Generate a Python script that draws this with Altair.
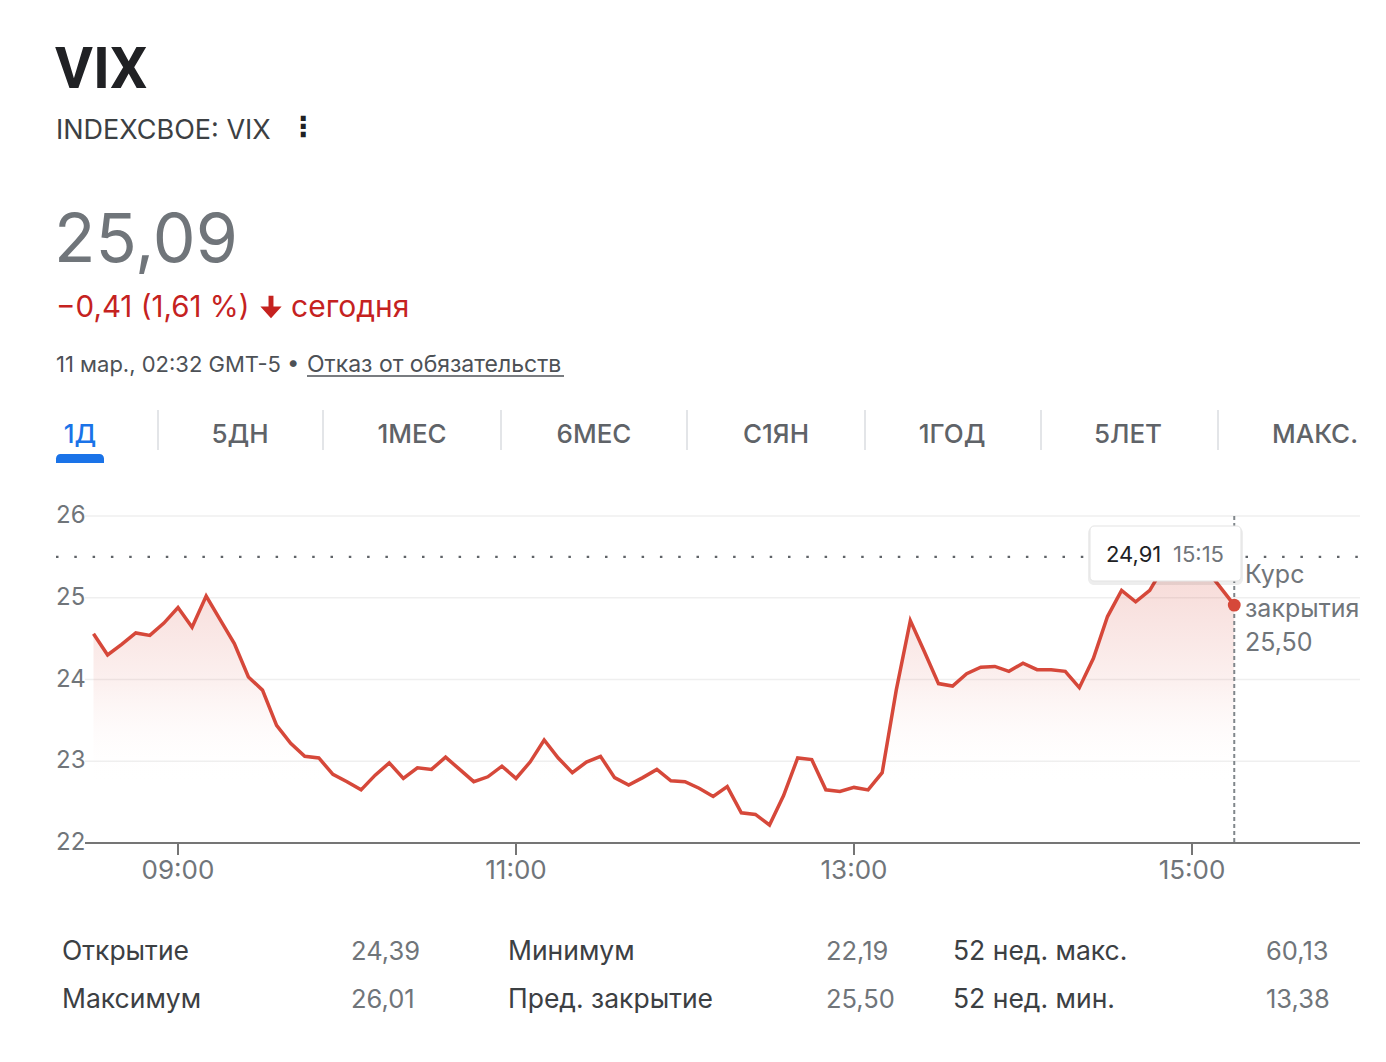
import altair as alt
import pandas as pd

# ---------------- data ----------------
start_min = 8 * 60 + 30   # 08:30
step_min = 5
vix_values = [
    24.56, 24.30, 24.43, 24.57, 24.54, 24.69, 24.88, 24.64, 25.02, 24.73,
    24.44, 24.03, 23.87, 23.44, 23.22, 23.06, 23.04, 22.84, 22.75, 22.65,
    22.83, 22.98, 22.79, 22.92, 22.90, 23.05, 22.90, 22.75, 22.81, 22.94,
    22.79, 22.99, 23.26, 23.04, 22.86, 22.99, 23.06, 22.80, 22.71, 22.80,
    22.90, 22.76, 22.75, 22.67, 22.57, 22.69, 22.37, 22.35, 22.22, 22.58,
    23.04, 23.02, 22.65, 22.63, 22.68, 22.65, 22.86, 23.87, 24.72, 24.34,
    23.95, 23.92, 24.07, 24.15, 24.16, 24.10, 24.20, 24.12, 24.12, 24.10,
    23.90, 24.26, 24.77, 25.09, 24.95, 25.09, 25.38, 25.55, 25.50, 25.35,
    25.13, 24.91,
]
times = [start_min + step_min * i for i in range(len(vix_values))]

y_ticks = [22, 23, 24, 25, 26]
x_tick_labels = ["09:00", "11:00", "13:00", "15:00"]
prev_close = 25.50

tabs = ["1Д", "5ДН", "1МЕС", "6МЕС", "С1ЯН", "1ГОД", "5ЛЕТ", "МАКС."]
tab_centers = [80, 240, 412, 594, 776, 952, 1128, 1315]
tab_separators = [158, 323, 501, 687, 865, 1041, 1218]

stat_labels = [["Открытие", "Максимум"], ["Минимум", "Пред. закрытие"], ["52 нед. макс.", "52 нед. мин."]]
stat_values = [["24,39", "26,01"], ["22,19", "25,50"], ["60,13", "13,38"]]

# ---------------- style ----------------
FONT = "Inter"
RED = "#d6483a"
W, H = 1360, 1040


def fmt(v):
    return f"{v:.2f}".replace(".", ",")


def tmin(s):
    h, m = s.split(":")
    return int(h) * 60 + int(m)


one = pd.DataFrame({"a": [0]})


def txt(s, x, y, size, color, weight="normal", align="left", font=FONT, baseline="alphabetic"):
    return alt.Chart(pd.DataFrame({"s": [s]})).mark_text(
        align=align, baseline=baseline, fontSize=size, font=font,
        fontWeight=weight, color=color
    ).encode(x=alt.value(x - 8), y=alt.value(y - 8), text="s:N")


def hrule(x1, x2, y, color, width, dash=None):
    kw = dict(color=color, strokeWidth=width)
    if dash:
        kw["strokeDash"] = dash
    return alt.Chart(one).mark_rule(**kw).encode(
        x=alt.value(x1 - 8), x2=alt.value(x2 - 8), y=alt.value(y - 8))


def vrule(x, y1, y2, color, width, dash=None):
    kw = dict(color=color, strokeWidth=width)
    if dash:
        kw["strokeDash"] = dash
    return alt.Chart(one).mark_rule(**kw).encode(
        x=alt.value(x - 8), y=alt.value(y1 - 8), y2=alt.value(y2 - 8))


def rect(x1, x2, y1, y2, fill, **kw):
    return alt.Chart(one).mark_rect(fill=fill, **kw).encode(
        x=alt.value(x1 - 8), x2=alt.value(x2 - 8), y=alt.value(y1 - 8), y2=alt.value(y2 - 8))


# scales mapping into the chart region of the page
xs = alt.Scale(domain=[540, 900], range=[178 - 8, 1192 - 8], nice=False, zero=False)
ys = alt.Scale(domain=[22, 26], range=[843 - 8, 516 - 8], nice=False, zero=False)

df = pd.DataFrame({"t": times, "v": vix_values})
X = alt.X("t:Q", scale=xs, axis=None)
Y = alt.Y("v:Q", scale=ys, axis=None)

layers = []

# gridlines
grid = alt.Chart(pd.DataFrame({"g": y_ticks[1:]})).mark_rule(color="#efefef", strokeWidth=1.5).encode(
    y=alt.Y("g:Q", scale=ys, axis=None), x=alt.value(85 - 8), x2=alt.value(1360 - 8))
layers.append(grid)

# previous close dotted line
pc = alt.Chart(pd.DataFrame({"p": [prev_close]})).mark_rule(
    color="#5f6368", strokeWidth=2.2, strokeDash=[2.5, 15.8]).encode(
    y=alt.Y("p:Q", scale=ys, axis=None), x=alt.value(56 - 8), x2=alt.value(1360 - 8))
layers.append(pc)

gradient = alt.Gradient(
    gradient="linear",
    stops=[
        alt.GradientStop(color="rgba(214,72,58,0.22)", offset=0),
        alt.GradientStop(color="rgba(214,72,58,0.08)", offset=0.45),
        alt.GradientStop(color="rgba(255,255,255,0)", offset=0.8),
    ],
    x1=1, x2=1, y1=0, y2=1,
)
area = alt.Chart(df).mark_area(color=gradient).encode(x=X, y=Y, y2=alt.datum(22))
line = alt.Chart(df).mark_line(color=RED, strokeWidth=3.5).encode(x=X, y=Y)
layers += [area, line]

# y labels
ylab = alt.Chart(pd.DataFrame({"g": y_ticks, "lab": [str(v) for v in y_ticks]})).mark_text(
    align="left", baseline="middle", fontSize=24, font=FONT, color="#70757a").encode(
    y=alt.Y("g:Q", scale=ys, axis=None), x=alt.value(56 - 8), text="lab:N")
layers.append(ylab)

# x axis baseline
base = alt.Chart(pd.DataFrame({"g": [y_ticks[0]]})).mark_rule(color="#757575", strokeWidth=2).encode(
    y=alt.Y("g:Q", scale=ys, axis=None), x=alt.value(85 - 8), x2=alt.value(1360 - 8))
layers.append(base)

xt = pd.DataFrame({"m": [tmin(s) for s in x_tick_labels], "lab": x_tick_labels})
ticks = alt.Chart(xt).mark_rule(color="#757575", strokeWidth=2).encode(
    x=alt.X("m:Q", scale=xs, axis=None), y=alt.value(843 - 8), y2=alt.value(855 - 8))
xlab = alt.Chart(xt).mark_text(align="center", baseline="alphabetic", fontSize=26, font=FONT,
                               color="#70757a").encode(
    x=alt.X("m:Q", scale=xs, axis=None), y=alt.value(879 - 8), text="lab:N")
layers += [ticks, xlab]

# vertical dashed line at last point
last = df.tail(1)
vline = alt.Chart(last).mark_rule(color="#80868b", strokeWidth=2, strokeDash=[4, 3]).encode(
    x=X, y=alt.value(516 - 8), y2=alt.value(843 - 8))
layers.append(vline)

# tooltip box
layers.append(rect(1088, 1243, 527, 585, "rgba(0,0,0,0.07)", cornerRadius=6))
layers.append(rect(1090, 1241, 526, 581, "#ffffff", stroke="#e3e3e3", strokeWidth=1, cornerRadius=4))
layers.append(txt(fmt(vix_values[-1]), 1106, 562, 22, "#202124"))
layers.append(txt("15:15", 1173, 562, 22, "#70757a"))

# last point
pt = alt.Chart(last).mark_point(filled=True, size=165, color=RED, opacity=1).encode(x=X, y=Y)
layers.append(pt)

# close label
layers.append(txt("Курс", 1245, 583, 25, "#70757a"))
layers.append(txt("закрытия", 1245, 617, 25, "#70757a"))
layers.append(txt(fmt(prev_close), 1245, 651, 25, "#70757a"))

# ---------------- header ----------------
layers.append(txt("VIX", 55, 88, 58, "#202124", weight="bold", font="Roboto"))
layers.append(txt("INDEXCBOE: VIX", 56, 139, 27, "#3c4043"))
layers.append(txt("⋮", 303, 136, 28, "#202124", weight="bold", align="center", font="DejaVu Sans"))
layers.append(txt("25,09", 54, 262, 68, "#70757a"))
layers.append(txt("−0,41 (1,61 %)", 56, 317, 29.5, "#c5221f"))
arrow = alt.Chart(one).mark_point(
    shape="M-0.22,-1 L0.22,-1 L0.22,-0.05 L0.95,-0.05 L0,1 L-0.95,-0.05 L-0.22,-0.05 Z",
    filled=True, size=500, color="#c5221f", opacity=1).encode(
    x=alt.value(271 - 8), y=alt.value(307 - 8))
layers.append(arrow)
layers.append(txt("сегодня", 291, 317, 30, "#c5221f"))
layers.append(txt("11 мар., 02:32 GMT-5 •", 56, 372, 22, "#4d5156"))
layers.append(txt("Отказ от обязательств", 307, 372, 23, "#4d5156"))
layers.append(hrule(307, 564, 376, "#4d5156", 1.5))

# tabs
for i, (lab, cx) in enumerate(zip(tabs, tab_centers)):
    col = "#1a73e8" if i == 0 else "#5f6368"
    layers.append(txt(lab, cx, 443, 26, col, weight=500, align="center"))
for sx in tab_separators:
    layers.append(vrule(sx, 410, 450, "#dadce0", 1.5))
layers.append(rect(56, 104, 454, 463, "#1a73e8", cornerRadiusTopLeft=5, cornerRadiusTopRight=5))

# ---------------- stats ----------------
lab_x = [62, 508, 953]
val_x = [351, 826, 1266]
row_y = [960, 1008]
for c in range(3):
    for r in range(2):
        layers.append(txt(stat_labels[c][r], lab_x[c], row_y[r], 26.5, "#3c4043"))
        layers.append(txt(stat_values[c][r], val_x[c], row_y[r], 25.5, "#70757a"))

chart = alt.layer(*layers).properties(
    width=W, height=H, padding=0, autosize=alt.AutoSizeParams(type="none"),
    background="white",
).configure_view(stroke=None)

chart.save("out.html", embed_options={"renderer": "svg", "actions": False})
